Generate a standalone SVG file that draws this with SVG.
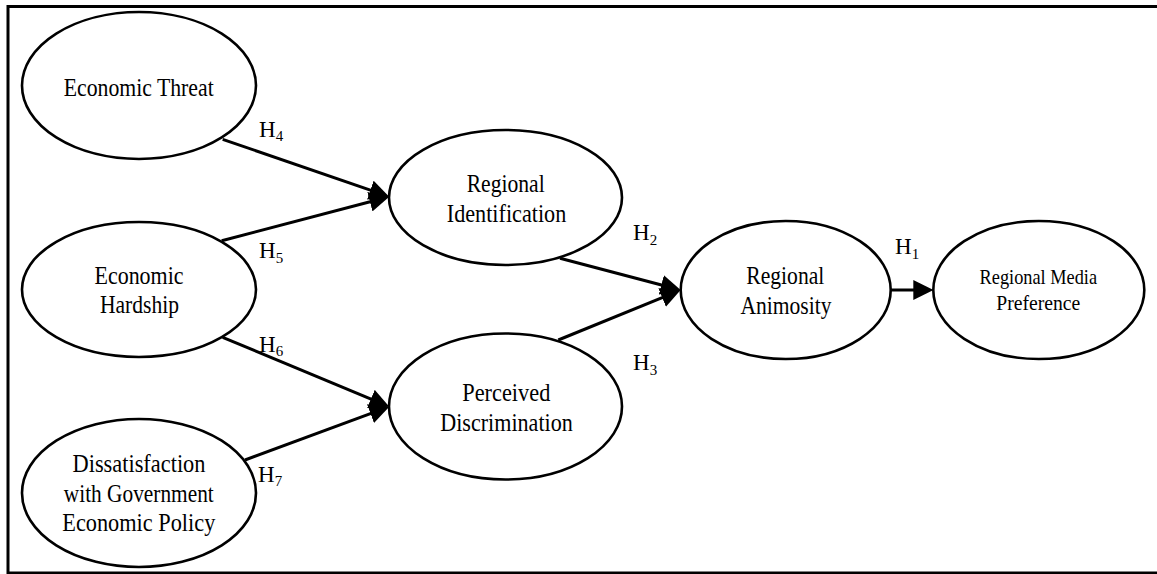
<svg xmlns="http://www.w3.org/2000/svg" width="1157" height="574" viewBox="0 0 1157 574">
<style>
  .frame { fill: none; stroke: #000; stroke-width: 3; }
  .node ellipse { fill: #fff; stroke: #000; stroke-width: 2.6; }
  .lbl { font-family: "Liberation Serif", "Times New Roman", serif; font-size: 24.5px; fill: #000; text-anchor: middle; }
  .lbl.small { font-size: 21.5px; }
  .h { font-family: "Liberation Serif", "Times New Roman", serif; font-size: 23px; fill: #000; }
  .sub { font-size: 15px; }
  .edge { stroke: #000; stroke-width: 3; fill: none; marker-end: url(#arrow); }
</style>
<defs>
  <marker id="arrow" markerUnits="userSpaceOnUse" viewBox="0 0 20 20" refX="10" refY="10" markerWidth="20" markerHeight="20" orient="auto">
    <path d="M0,0 L20,10 L0,20 z" fill="#000"/>
  </marker>
</defs>
<rect width="1157" height="574" fill="#fff"/>
<path class="frame" d="M1160,6.5 H8 V573 H1160"/>

<g id="connectors">
  <line class="edge" x1="222.7" y1="139.3" x2="379.8" y2="193.4"/>
  <line class="edge" x1="221.7" y1="240.7" x2="379.6" y2="199.2"/>
  <line class="edge" x1="222.7" y1="337.3" x2="380.1" y2="402.9"/>
  <line class="edge" x1="245" y1="460" x2="379.9" y2="410.2"/>
  <line class="edge" x1="560" y1="258.3" x2="671" y2="287.5"/>
  <line class="edge" x1="558.3" y1="340" x2="671.4" y2="293.8"/>
  <line class="edge" x1="890.7" y1="290" x2="923.3" y2="290"/>
  <text class="h" x="259" y="136.7">H<tspan class="sub" dy="4">4</tspan></text>
  <text class="h" x="259" y="258.3">H<tspan class="sub" dy="4.5">5</tspan></text>
  <text class="h" x="259" y="351.7">H<tspan class="sub" dy="4.5">6</tspan></text>
  <text class="h" x="258" y="481.7">H<tspan class="sub" dy="4.5">7</tspan></text>
  <text class="h" x="633" y="240">H<tspan class="sub" dy="5">2</tspan></text>
  <text class="h" x="633" y="370">H<tspan class="sub" dy="5">3</tspan></text>
  <text class="h" x="895" y="254">H<tspan class="sub" dy="5">1</tspan></text>
</g>

<g id="economic-threat" class="node">
  <ellipse cx="139" cy="85.5" rx="117" ry="73.5"/>
  <text class="lbl" x="138.7" y="95.5" textLength="150" lengthAdjust="spacingAndGlyphs">Economic Threat</text>
</g>
<g id="economic-hardship" class="node">
  <ellipse cx="139" cy="289.5" rx="117" ry="67.5"/>
  <text class="lbl" x="139" y="284" textLength="89" lengthAdjust="spacingAndGlyphs">Economic</text>
  <text class="lbl" x="139.5" y="313" textLength="79" lengthAdjust="spacingAndGlyphs">Hardship</text>
</g>
<g id="dissatisfaction" class="node">
  <ellipse cx="139" cy="493" rx="117" ry="74"/>
  <text class="lbl" x="139" y="471.7" textLength="133" lengthAdjust="spacingAndGlyphs">Dissatisfaction</text>
  <text class="lbl" x="138.8" y="501.7" textLength="150" lengthAdjust="spacingAndGlyphs">with Government</text>
  <text class="lbl" x="138.8" y="530.7" textLength="153" lengthAdjust="spacingAndGlyphs">Economic Policy</text>
</g>
<g id="regional-identification" class="node">
  <ellipse cx="505.5" cy="197.5" rx="116.5" ry="67.5"/>
  <text class="lbl" x="505.7" y="191.7" textLength="78" lengthAdjust="spacingAndGlyphs">Regional</text>
  <text class="lbl" x="506.5" y="221.7" textLength="119.5" lengthAdjust="spacingAndGlyphs">Identification</text>
</g>
<g id="perceived-discrimination" class="node">
  <ellipse cx="505.5" cy="406.5" rx="116.5" ry="73"/>
  <text class="lbl" x="506.3" y="400.5" textLength="88" lengthAdjust="spacingAndGlyphs">Perceived</text>
  <text class="lbl" x="506.5" y="430.5" textLength="132.5" lengthAdjust="spacingAndGlyphs">Discrimination</text>
</g>
<g id="regional-animosity" class="node">
  <ellipse cx="785.7" cy="290" rx="105" ry="69"/>
  <text class="lbl" x="785.3" y="284" textLength="78" lengthAdjust="spacingAndGlyphs">Regional</text>
  <text class="lbl" x="786" y="313.5" textLength="91" lengthAdjust="spacingAndGlyphs">Animosity</text>
</g>
<g id="regional-media-preference" class="node">
  <ellipse cx="1038.8" cy="290" rx="105.5" ry="69"/>
  <text class="lbl small" x="1038.3" y="284" textLength="117.5" lengthAdjust="spacingAndGlyphs">Regional Media</text>
  <text class="lbl small" x="1038.3" y="310" textLength="84" lengthAdjust="spacingAndGlyphs">Preference</text>
</g>
</svg>
